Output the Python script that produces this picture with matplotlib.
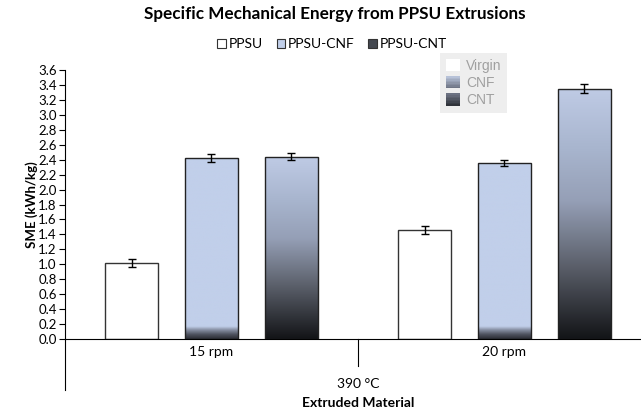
import numpy as np
import matplotlib
matplotlib.use("Agg")
from matplotlib import pyplot as plt
from matplotlib.colors import LinearSegmentedColormap
from matplotlib.patches import Patch, Rectangle
from matplotlib.legend_handler import HandlerBase
import matplotlib.transforms as mtransforms

plt.rcParams['font.family'] = ['Lato', 'DejaVu Sans']

# Datos
categorias = ['15 rpm', '20 rpm']
grupo = '390 °C'
series = ['PPSU', 'PPSU-CNF', 'PPSU-CNT']
sme_ppsu = [1.02, 1.46]
sme_cnf = [2.42, 2.36]
sme_cnt = [2.44, 3.35]
err_ppsu = [0.05, 0.05]
err_cnf = [0.05, 0.04]
err_cnt = [0.05, 0.06]
etiquetas_y = np.arange(0, 3.61, 0.2)

# Degradados de las barras
cmap_cnt = LinearSegmentedColormap.from_list(
    'cnt', [(0.0, '#131417'), (0.3, '#5d626d'), (0.55, '#959fb6'),
            (0.76, '#a8b5ce'), (1.0, '#bfcbe5')])
cmap_cnf = LinearSegmentedColormap.from_list(
    'cnf', [(0.0, '#2b2d34'), (0.35, '#4e525e'), (0.7, '#858da0'),
            (0.93, '#b5c1da'), (1.0, '#c1cfea')])


def rellenar_degradado(ax, barras, tipo):
    for b in barras:
        x0, w, h = b.get_x(), b.get_width(), b.get_height()
        if tipo == 'cnt':
            grad = np.linspace(0, 1, 256).reshape(-1, 1)
            img = ax.imshow(grad, cmap=cmap_cnt, origin='lower', aspect='auto',
                            extent=[x0, x0 + w, 0, h], zorder=1)
        else:
            y = np.linspace(0, h, 512)
            grad = np.clip(y / 0.17, 0, 1).reshape(-1, 1)
            img = ax.imshow(grad, cmap=cmap_cnf, origin='lower', aspect='auto',
                            extent=[x0, x0 + w, 0, h], zorder=1,
                            vmin=0, vmax=1)
        img.set_clip_path(b)


class HandlerDegradado(HandlerBase):
    def __init__(self, cmap):
        super().__init__()
        self.cmap = cmap

    def create_artists(self, legend, orig_handle, xdescent, ydescent,
                       width, height, fontsize, trans):
        artistas = []
        n = 8
        for i in range(n):
            r = Rectangle((-xdescent, -ydescent + i * height / n), width,
                          height / n + 0.3, facecolor=self.cmap(i / (n - 1)),
                          edgecolor='none', transform=trans)
            artistas.append(r)
        return artistas


fig = plt.figure(figsize=(6.41, 4.09), dpi=100)
ax = fig.add_axes([0.1014, 0.1711, 0.9142, 0.6577])

x = np.arange(len(categorias))
ancho = 0.181
paso = 0.273

b1 = ax.bar(x - paso, sme_ppsu, ancho, color='white', edgecolor='#333333',
            linewidth=1.0, zorder=2, label=series[0])
b2 = ax.bar(x, sme_cnf, ancho, facecolor='none', edgecolor='#222222',
            linewidth=1.0, zorder=2)
b3 = ax.bar(x + paso, sme_cnt, ancho, facecolor='none', edgecolor='#222222',
            linewidth=1.0, zorder=2)
rellenar_degradado(ax, b2, 'cnf')
rellenar_degradado(ax, b3, 'cnt')

for pos, val, err in [(x - paso, sme_ppsu, err_ppsu), (x, sme_cnf, err_cnf),
                      (x + paso, sme_cnt, err_cnt)]:
    ax.errorbar(pos, val, yerr=err, fmt='none', ecolor='black',
                elinewidth=1.0, capsize=3, capthick=1.0, zorder=3)

ax.set_xlim(-0.5, 1.5)
ax.set_ylim(0, 3.6)
ax.set_yticks(etiquetas_y)
ax.set_yticklabels(['{:.1f}'.format(v) for v in etiquetas_y], fontsize=9.5)
ax.tick_params(axis='y', length=4, width=0.8, pad=2)
ax.set_xticks(x)
ax.set_xticklabels(categorias, fontsize=10)
ax.tick_params(axis='x', length=0, pad=5)
for s in ['top', 'right']:
    ax.spines[s].set_visible(False)
ax.spines['left'].set_linewidth(0.8)
ax.spines['bottom'].set_linewidth(0.8)
ax.set_ylabel('SME (kWh/kg)', fontsize=9.5, fontweight='bold')
ax.yaxis.set_label_coords(-0.046, 0.5)

# Separadores del eje x en varios niveles
trans = mtransforms.blended_transform_factory(ax.transData, ax.transAxes)
ax.plot([-0.5, -0.5], [0, -0.19], color='black', lw=0.8, transform=trans,
        clip_on=False)
ax.plot([0.5, 0.5], [0, -0.1], color='black', lw=0.8, transform=trans,
        clip_on=False)
ax.text(0.5, -0.167, grupo, transform=trans, ha='center', va='center',
        fontsize=10)
ax.text(0.5, -0.238, 'Extruded Material', transform=trans, ha='center',
        va='center', fontsize=10, fontweight='bold')

fig.text(0.523, 1 - 14 / 409, 'Specific Mechanical Energy from PPSU Extrusions',
         ha='center', va='center', fontsize=12.3, fontweight='bold')

# Leyenda principal
h_ppsu = Patch(facecolor='white', edgecolor='#333333', lw=0.8)
h_cnf = Patch(facecolor='#c1cfea', edgecolor='#333333', lw=0.8)
h_cnt = Patch(facecolor='#444850', edgecolor='#333333', lw=0.8)
leg1 = fig.legend([h_ppsu, h_cnf, h_cnt], series, loc='center',
                  bbox_to_anchor=(0.518, 1 - 44 / 409), ncol=3, frameon=False,
                  fontsize=10, handlelength=0.6, handleheight=0.6,
                  handletextpad=0.2, columnspacing=1.0)

# Leyenda interna (recuadro gris)
h_v = Patch(facecolor='white', edgecolor='none')
h_f = Patch(facecolor='#9ea8bd')
h_t = Patch(facecolor='#4a4e58')
leg2 = ax.legend([h_v, h_f, h_t], ['Virgin', 'CNF', 'CNT'],
                 loc='upper left', bbox_to_anchor=(440 / 641, 1 - 53 / 409),
                 bbox_transform=fig.transFigure, borderaxespad=0,
                 facecolor='#eeeeee', edgecolor='none', framealpha=1,
                 fancybox=False, handlelength=1.05, handleheight=0.95,
                 handletextpad=0.45, labelspacing=0.25, borderpad=0.4,
                 prop={'family': 'Liberation Sans', 'size': 10},
                 handler_map={h_f: HandlerDegradado(
                     LinearSegmentedColormap.from_list('a', ['#6f7585', '#b7c2d8'])),
                     h_t: HandlerDegradado(
                     LinearSegmentedColormap.from_list('b', ['#30333a', '#6c7282']))})
for t in leg2.get_texts():
    t.set_color('#a0a0a0')

fig.savefig('out.png', dpi=100)
